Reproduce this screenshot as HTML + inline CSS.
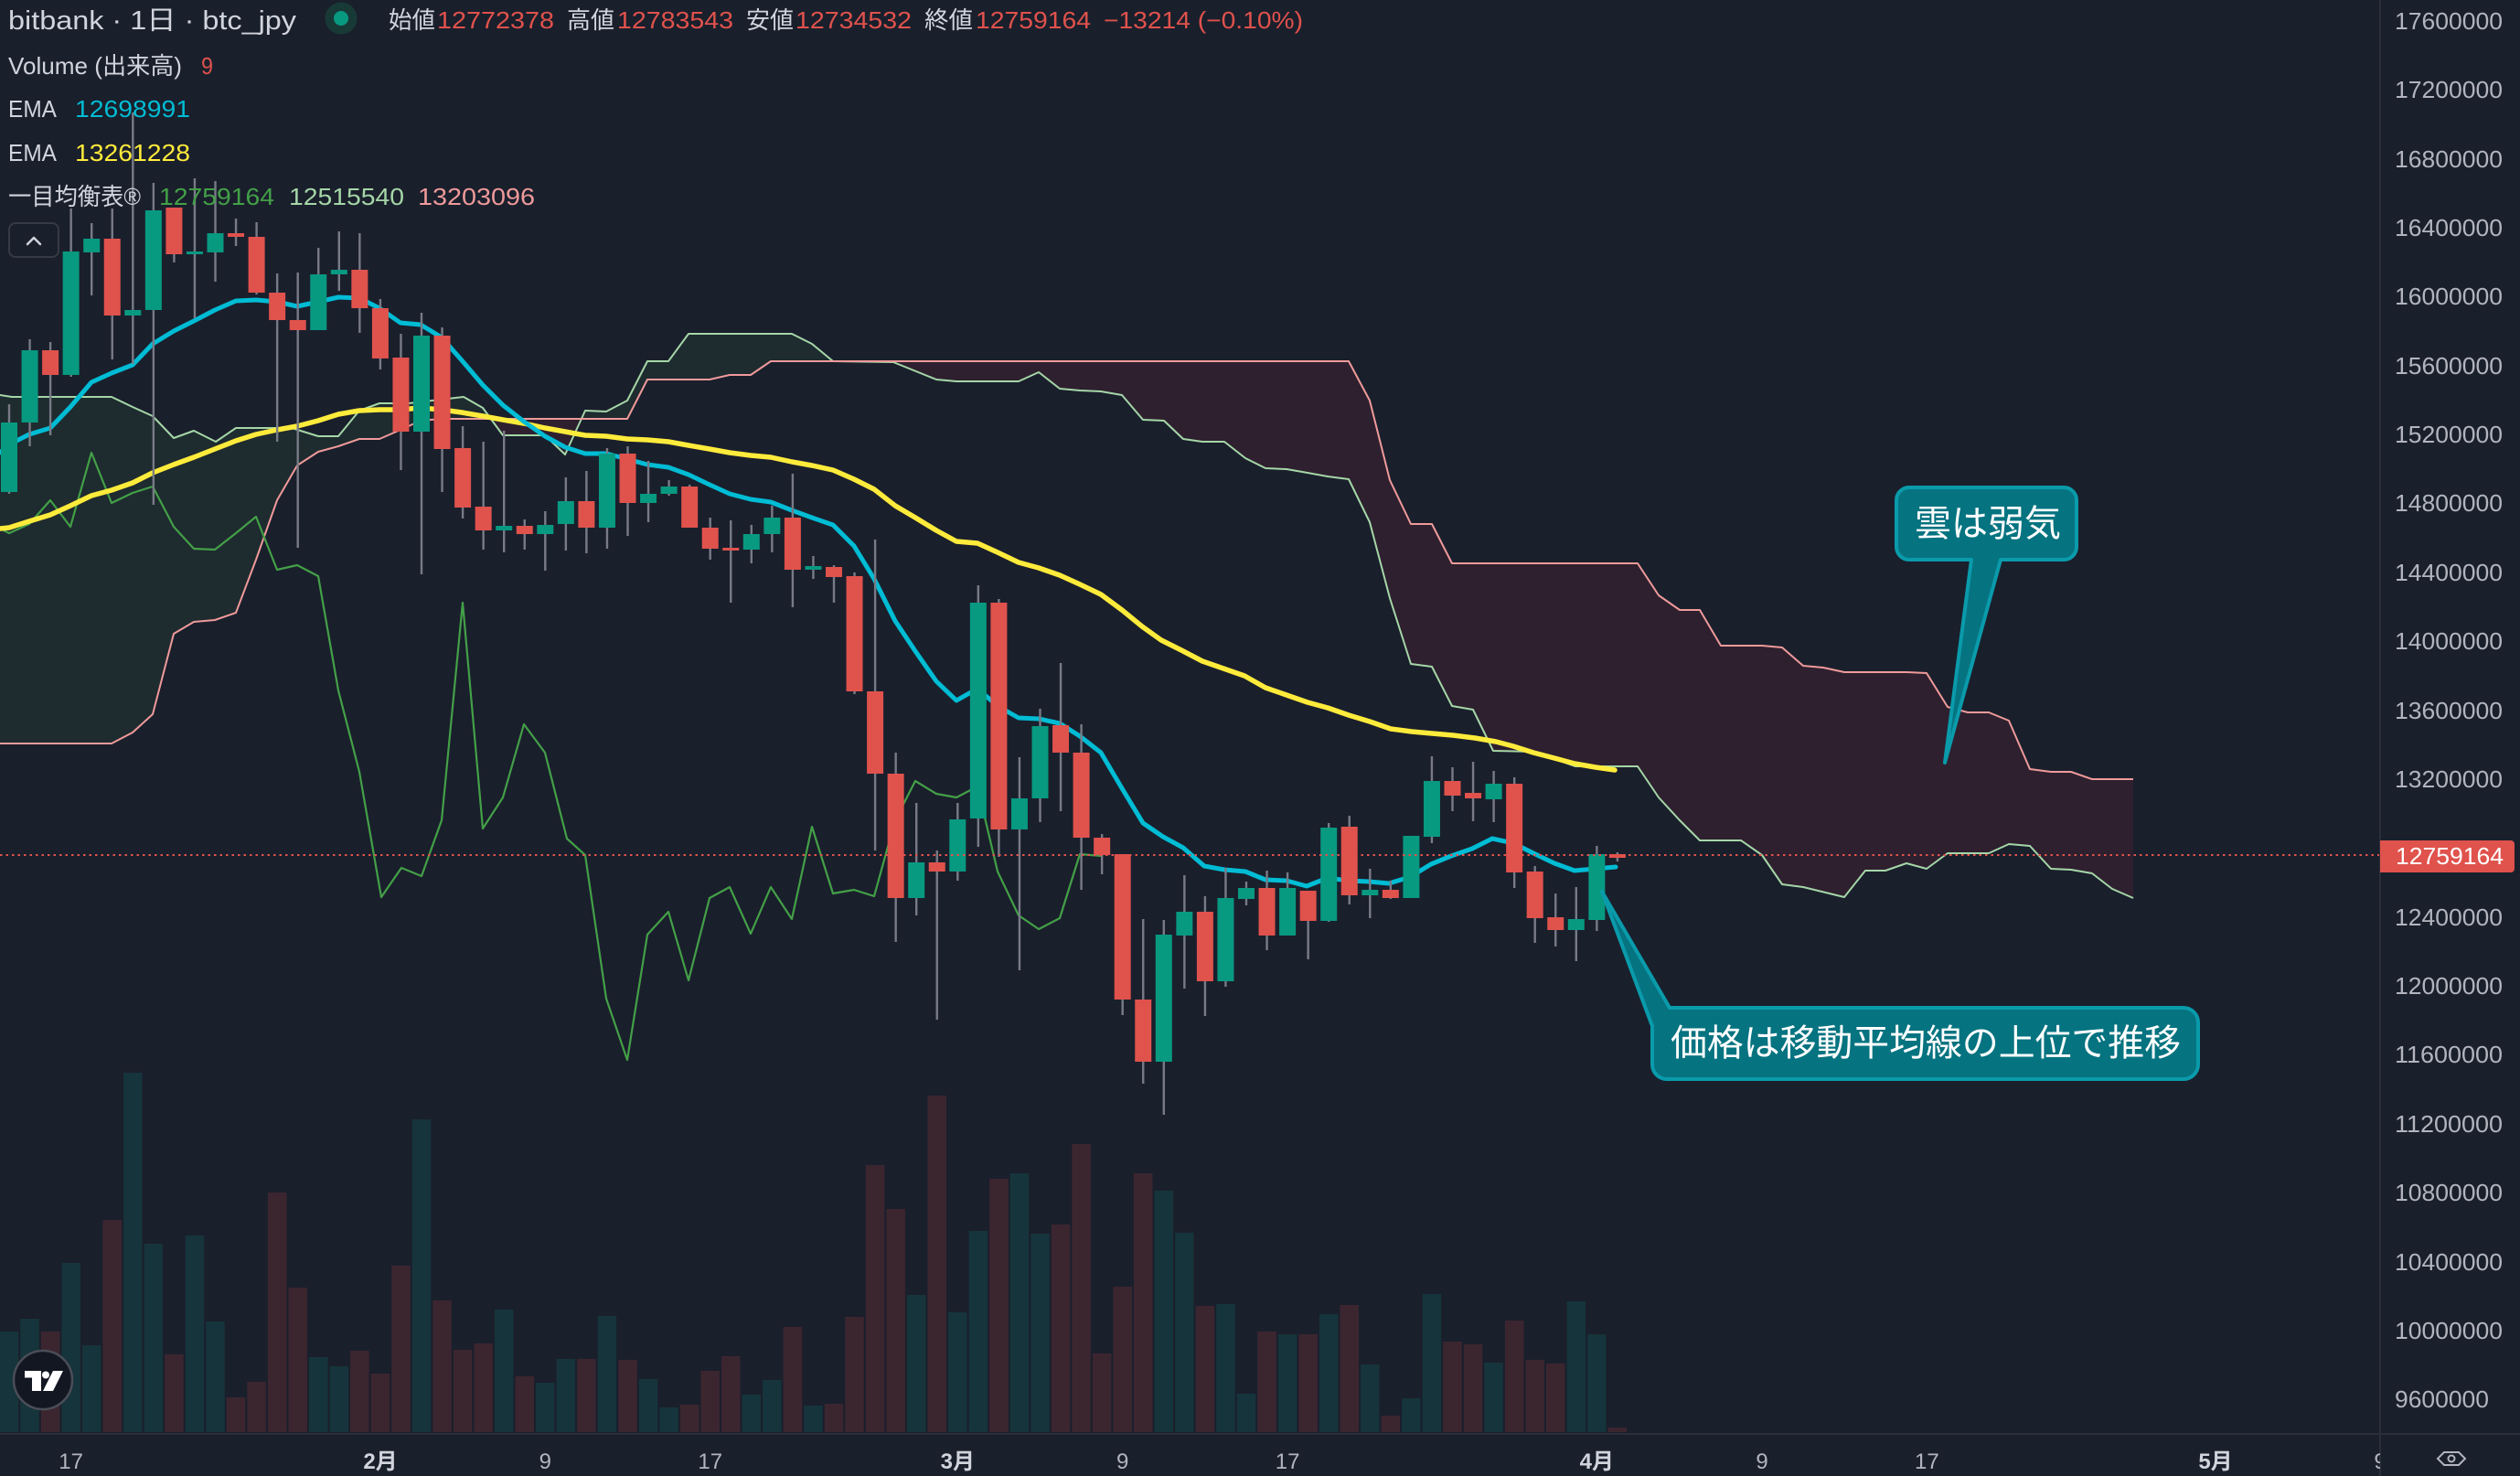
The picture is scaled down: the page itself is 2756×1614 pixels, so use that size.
<!DOCTYPE html>
<html>
<head>
<meta charset="utf-8">
<style>
  html,body{margin:0;padding:0;background:#1a1f2c;}
  svg{display:block;}
  .lat{font-family:"Liberation Sans","Noto Sans CJK JP",sans-serif;}
</style>
</head>
<body>
<svg width="2756" height="1614" viewBox="0 0 2756 1614" xmlns="http://www.w3.org/2000/svg">
  <defs>
    <clipPath id="chart"><rect x="0" y="0" width="2603" height="1567"/></clipPath>
    <clipPath id="belowA"><polygon points="0,432 13,434 122,434 145,445 167,455 190,479 212,471 236,483 258,468 319,468 348,477 370,477 393,449 415,441 447,441 507,434 528,446 550,476 596,476 618,497 640,449 663,450 686,438 708,395 731,395 753,365 866,365 888,376 911,395 977,396 1024,415 1046,417 1114,417 1136,407 1159,425 1181,427 1204,428 1227,432 1250,459 1273,460 1294,480 1315,483 1339,483 1362,501 1384,512 1407,513 1430,517 1452,521 1475,524 1498,571 1520,654 1543,726 1566,729 1588,772 1611,776 1633,821 1678,822 1723,838 1791,838 1814,872 1837,897 1859,919 1904,919 1927,935 1949,967 1972,970 2017,981 2040,952 2062,952 2085,944 2107,950 2130,933 2175,933 2197,923 2220,925 2243,950 2265,951 2288,955 2310,972 2333,982 2333,1614 0,1614"/></clipPath>
    <clipPath id="belowB"><polygon points="0,813 122,813 145,801 167,781 190,693 212,680 235,678 258,670 280,612 303,547 325,509 348,494 370,488 393,480 415,480 438,470 460,460 483,458 686,458 708,415 776,415 798,410 821,410 843,395 1475,395 1498,438 1520,525 1543,573 1566,573 1588,616 1791,616 1814,651 1837,667 1859,667 1882,706 1927,706 1949,708 1972,728 1994,730 2017,735 2085,735 2107,736 2130,773 2152,779 2175,779 2197,788 2220,841 2243,844 2265,844 2288,852 2333,852 2333,1614 0,1614"/></clipPath>
    <clipPath id="timeclip"><rect x="0" y="1568" width="2603" height="46"/></clipPath>
  </defs>

  <rect x="0" y="0" width="2756" height="1614" fill="#1a1f2c"/>

  <g clip-path="url(#chart)">
    <!-- Cloud fills -->
    <polygon id="between" clip-path="url(#belowA)" fill="#1e2b2f" points="0,432 13,434 122,434 145,445 167,455 190,479 212,471 236,483 258,468 319,468 348,477 370,477 393,449 415,441 447,441 507,434 528,446 550,476 596,476 618,497 640,449 663,450 686,438 708,395 731,395 753,365 866,365 888,376 911,395 977,396 1024,415 1046,417 1114,417 1136,407 1159,425 1181,427 1204,428 1227,432 1250,459 1273,460 1294,480 1315,483 1339,483 1362,501 1384,512 1407,513 1430,517 1452,521 1475,524 1498,571 1520,654 1543,726 1566,729 1588,772 1611,776 1633,821 1678,822 1723,838 1791,838 1814,872 1837,897 1859,919 1904,919 1927,935 1949,967 1972,970 2017,981 2040,952 2062,952 2085,944 2107,950 2130,933 2175,933 2197,923 2220,925 2243,950 2265,951 2288,955 2310,972 2333,982 2333,852 2288,852 2265,844 2243,844 2220,841 2197,788 2175,779 2152,779 2130,773 2107,736 2085,735 2017,735 1994,730 1972,728 1949,708 1927,706 1882,706 1859,667 1837,667 1814,651 1791,616 1588,616 1566,573 1543,573 1520,525 1498,438 1475,395 843,395 821,410 798,410 776,415 708,415 686,458 483,458 460,460 438,470 415,480 393,480 370,488 348,494 325,509 303,547 280,612 258,670 235,678 212,680 190,693 167,781 145,801 122,813 0,813"/>
    <polygon clip-path="url(#belowB)" fill="#2e202f" points="0,432 13,434 122,434 145,445 167,455 190,479 212,471 236,483 258,468 319,468 348,477 370,477 393,449 415,441 447,441 507,434 528,446 550,476 596,476 618,497 640,449 663,450 686,438 708,395 731,395 753,365 866,365 888,376 911,395 977,396 1024,415 1046,417 1114,417 1136,407 1159,425 1181,427 1204,428 1227,432 1250,459 1273,460 1294,480 1315,483 1339,483 1362,501 1384,512 1407,513 1430,517 1452,521 1475,524 1498,571 1520,654 1543,726 1566,729 1588,772 1611,776 1633,821 1678,822 1723,838 1791,838 1814,872 1837,897 1859,919 1904,919 1927,935 1949,967 1972,970 2017,981 2040,952 2062,952 2085,944 2107,950 2130,933 2175,933 2197,923 2220,925 2243,950 2265,951 2288,955 2310,972 2333,982 2333,852 2288,852 2265,844 2243,844 2220,841 2197,788 2175,779 2152,779 2130,773 2107,736 2085,735 2017,735 1994,730 1972,728 1949,708 1927,706 1882,706 1859,667 1837,667 1814,651 1791,616 1588,616 1566,573 1543,573 1520,525 1498,438 1475,395 843,395 821,410 798,410 776,415 708,415 686,458 483,458 460,460 438,470 415,480 393,480 370,488 348,494 325,509 303,547 280,612 258,670 235,678 212,680 190,693 167,781 145,801 122,813 0,813"/>

    <!-- Volume -->
    <path fill="#16343b" d="M-0.25 1456h20.5V1566h-20.5z M22.3 1442h20.5V1566h-20.5z M67.4 1381h20.5V1566h-20.5z M89.95 1471h20.5V1566h-20.5z M135.05 1173h20.5V1566h-20.5z M157.6 1360h20.5V1566h-20.5z M202.7 1351h20.5V1566h-20.5z M225.25 1445h20.5V1566h-20.5z M338 1484h20.5V1566h-20.5z M360.55 1494h20.5V1566h-20.5z M450.75 1224h20.5V1566h-20.5z M540.95 1432h20.5V1566h-20.5z M586.05 1512h20.5V1566h-20.5z M608.6 1486h20.5V1566h-20.5z M653.7 1439h20.5V1566h-20.5z M698.8 1508h20.5V1566h-20.5z M721.35 1539h20.5V1566h-20.5z M811.55 1525h20.5V1566h-20.5z M834.1 1509h20.5V1566h-20.5z M879.2 1537h20.5V1566h-20.5z M991.95 1416h20.5V1566h-20.5z M1037.05 1435h20.5V1566h-20.5z M1059.6 1346h20.5V1566h-20.5z M1104.7 1283h20.5V1566h-20.5z M1127.25 1349h20.5V1566h-20.5z M1262.55 1302h20.5V1566h-20.5z M1285.1 1348h20.5V1566h-20.5z M1330.2 1426h20.5V1566h-20.5z M1352.75 1524h20.5V1566h-20.5z M1397.85 1459h20.5V1566h-20.5z M1442.95 1437h20.5V1566h-20.5z M1488.05 1492h20.5V1566h-20.5z M1533.15 1529h20.5V1566h-20.5z M1555.7 1415h20.5V1566h-20.5z M1623.35 1490h20.5V1566h-20.5z M1713.55 1423h20.5V1566h-20.5z M1736.1 1459h20.5V1566h-20.5z"/>
    <path fill="#3b2630" d="M44.85 1456h20.5V1566h-20.5z M112.5 1334h20.5V1566h-20.5z M180.15 1481h20.5V1566h-20.5z M247.8 1528h20.5V1566h-20.5z M270.35 1511h20.5V1566h-20.5z M292.9 1304h20.5V1566h-20.5z M315.45 1408h20.5V1566h-20.5z M383.1 1477h20.5V1566h-20.5z M405.65 1502h20.5V1566h-20.5z M428.2 1384h20.5V1566h-20.5z M473.3 1422h20.5V1566h-20.5z M495.85 1476h20.5V1566h-20.5z M518.4 1469h20.5V1566h-20.5z M563.5 1505h20.5V1566h-20.5z M631.15 1486h20.5V1566h-20.5z M676.25 1487h20.5V1566h-20.5z M743.9 1536h20.5V1566h-20.5z M766.45 1499h20.5V1566h-20.5z M789 1483h20.5V1566h-20.5z M856.65 1451h20.5V1566h-20.5z M901.75 1535h20.5V1566h-20.5z M924.3 1440h20.5V1566h-20.5z M946.85 1274h20.5V1566h-20.5z M969.4 1322h20.5V1566h-20.5z M1014.5 1198h20.5V1566h-20.5z M1082.15 1289h20.5V1566h-20.5z M1149.8 1339h20.5V1566h-20.5z M1172.35 1251h20.5V1566h-20.5z M1194.9 1480h20.5V1566h-20.5z M1217.45 1407h20.5V1566h-20.5z M1240 1283h20.5V1566h-20.5z M1307.65 1428h20.5V1566h-20.5z M1375.3 1456h20.5V1566h-20.5z M1420.4 1459h20.5V1566h-20.5z M1465.5 1427h20.5V1566h-20.5z M1510.6 1548h20.5V1566h-20.5z M1578.25 1467h20.5V1566h-20.5z M1600.8 1470h20.5V1566h-20.5z M1645.9 1444h20.5V1566h-20.5z M1668.45 1487h20.5V1566h-20.5z M1691 1491h20.5V1566h-20.5z M1758.65 1561h20.5V1566h-20.5z"/>

    <!-- Span lines -->
    <polyline fill="none" stroke="#a5d6a7" stroke-width="2" stroke-linejoin="round" points="0,432 13,434 122,434 145,445 167,455 190,479 212,471 236,483 258,468 319,468 348,477 370,477 393,449 415,441 447,441 507,434 528,446 550,476 596,476 618,497 640,449 663,450 686,438 708,395 731,395 753,365 866,365 888,376 911,395 977,396 1024,415 1046,417 1114,417 1136,407 1159,425 1181,427 1204,428 1227,432 1250,459 1273,460 1294,480 1315,483 1339,483 1362,501 1384,512 1407,513 1430,517 1452,521 1475,524 1498,571 1520,654 1543,726 1566,729 1588,772 1611,776 1633,821 1678,822 1723,838 1791,838 1814,872 1837,897 1859,919 1904,919 1927,935 1949,967 1972,970 2017,981 2040,952 2062,952 2085,944 2107,950 2130,933 2175,933 2197,923 2220,925 2243,950 2265,951 2288,955 2310,972 2333,982"/>
    <polyline fill="none" stroke="#ef9a9a" stroke-width="2" stroke-linejoin="round" points="0,813 122,813 145,801 167,781 190,693 212,680 235,678 258,670 280,612 303,547 325,509 348,494 370,488 393,480 415,480 438,470 460,460 483,458 686,458 708,415 776,415 798,410 821,410 843,395 1475,395 1498,438 1520,525 1543,573 1566,573 1588,616 1791,616 1814,651 1837,667 1859,667 1882,706 1927,706 1949,708 1972,728 1994,730 2017,735 2085,735 2107,736 2130,773 2152,779 2175,779 2197,788 2220,841 2243,844 2265,844 2288,852 2333,852"/>

    <!-- Lagging span -->
    <polyline fill="none" stroke="#43a047" stroke-width="2.2" stroke-linejoin="round" points="0,578 10,583 32,573 55,547 77,576 100,495 122,550 145,539 167,532 190,576 212,600 235,601 258,583 280,565 303,623 325,618 348,630 370,755 393,844 417,981 439,949 461,958 483,897 506,659 528,906 550,872 573,792 596,823 620,917 640,935 663,1092 686,1159 708,1022 731,997 753,1072 776,982 798,970 821,1021 843,970 866,1005 888,904 911,977 934,973 956,980 979,897 1001,854 1024,868 1046,872 1069,860 1091,953 1114,1001 1136,1016 1159,1004 1181,934 1205,936"/>

    <!-- EMAs -->
    <polyline fill="none" stroke="#ffeb3b" stroke-width="5.5" stroke-linejoin="round" stroke-linecap="round" points="0,578 10,577 32,570 55,563 77,553 100,542 122,536 145,528 167,517 190,508 212,500 235,491 258,482 280,475 303,470 325,466 348,460 370,453 393,449 415,448 438,448 460,446 483,448 505,451 528,455 550,459 573,463 596,468 618,472 640,476 663,477 686,480 708,481 731,483 753,487 776,491 798,495 821,498 843,500 866,505 888,509 911,514 934,524 956,535 979,553 1001,566 1024,580 1046,592 1069,594 1091,604 1114,615 1136,621 1159,629 1181,639 1204,650 1227,667 1249,685 1270,700 1292,711 1315,723 1338,731 1361,739 1384,752 1407,760 1430,768 1452,774 1475,782 1498,789 1521,797 1544,800 1566,802 1589,804 1613,807 1636,811 1655,816 1677,823 1700,829 1722,835 1745,839 1766,842"/>
    <polyline fill="none" stroke="#00bcd4" stroke-width="5" stroke-linejoin="round" stroke-linecap="round" points="0,495 10,486 32,475 55,468 77,445 100,418 122,408 145,399 167,376 190,362 212,351 235,339 258,329 280,328 303,330 325,335 348,330 370,325 393,326 415,337 438,353 460,355 483,369 505,394 528,421 550,443 573,461 596,477 618,489 640,496 663,496 686,502 708,508 731,511 753,519 776,530 798,540 821,546 843,549 866,558 888,566 911,574 934,597 956,633 979,679 1001,712 1024,745 1046,766 1069,753 1091,772 1114,785 1136,786 1159,791 1181,805 1204,823 1227,862 1250,900 1272,915 1294,927 1317,947 1339,951 1362,953 1384,962 1407,963 1429,969 1452,960 1474,963 1497,964 1519,966 1542,959 1565,945 1587,936 1610,928 1632,917 1655,922 1677,933 1700,944 1722,952 1745,950 1767,948"/>

    <!-- Wicks -->
    <path fill="none" stroke="#787b86" stroke-width="2.4" d="M10 442V540 M32.55 371V488 M55.1 374V476 M77.65 228V412 M100.2 244V323 M122.75 228V393 M145.3 123V398 M167.85 200V552 M190.4 227V287 M212.95 195V348 M235.5 198V308 M258.05 239V269 M280.6 243V322 M303.15 299V483 M325.7 298V599 M348.25 271V361 M370.8 253V318 M393.35 255V364 M415.9 327V404 M438.45 365V514 M461 342V628 M483.55 358V538 M506.1 466V567 M528.65 483V601 M551.2 471V604 M573.75 568V601 M596.3 559V624 M618.85 522V602 M641.4 515V605 M663.95 490V600 M686.5 488V586 M709.05 504V571 M731.6 525V542 M754.15 530V577 M776.7 566V612 M799.25 569V659 M821.8 574V616 M844.35 553V604 M866.9 518V664 M889.45 608V633 M912 618V659 M934.55 626V759 M957.1 590V930 M979.65 823V1030 M1002.2 878V1001 M1024.75 930V1115 M1047.3 878V963 M1069.85 640V926 M1092.4 655V937 M1114.95 828V1061 M1137.5 775V899 M1160.05 725V887 M1182.6 792V973 M1205.15 912V956 M1227.7 934V1110 M1250.25 1005V1185 M1272.8 1006V1219 M1295.35 957V1081 M1317.9 980V1111 M1340.45 949V1079 M1363 964V990 M1385.55 952V1039 M1408.1 954V1023 M1430.65 974V1049 M1453.2 900V1008 M1475.75 892V989 M1498.3 950V1004 M1520.85 963V983 M1543.4 914V982 M1565.95 827V922 M1588.5 839V887 M1611.05 833V898 M1633.6 843V899 M1656.15 850V971 M1678.7 947V1031 M1701.25 977V1035 M1723.8 970V1051 M1746.35 925V1018 M1768.9 932V942"/>

    <!-- Up bodies -->
    <path fill="#089981" d="M1 462h18V538h-18z M23.55 383h18V462h-18z M68.65 275h18V410h-18z M91.2 261h18V276h-18z M136.3 339h18V345h-18z M158.85 230h18V339h-18z M203.95 275h18V278h-18z M226.5 255h18V276h-18z M339.25 300h18V361h-18z M361.8 295h18V300h-18z M452 367h18V472h-18z M542.2 575h18V580h-18z M587.3 574h18V584h-18z M609.85 548h18V573h-18z M654.95 496h18V577h-18z M700.05 540h18V550h-18z M722.6 532h18V540h-18z M812.8 584h18V601h-18z M835.35 566h18V584h-18z M880.45 619h18V623h-18z M993.2 943h18V982h-18z M1038.3 896h18V953h-18z M1060.85 659h18V895h-18z M1105.95 873h18V907h-18z M1128.5 794h18V873h-18z M1263.8 1022h18V1161h-18z M1286.35 997h18V1023h-18z M1331.45 982h18V1073h-18z M1354 971h18V983h-18z M1399.1 971h18V1023h-18z M1444.2 905h18V1007h-18z M1489.3 973h18V979h-18z M1534.4 914h18V982h-18z M1556.95 854h18V915h-18z M1624.6 857h18V874h-18z M1714.8 1005h18V1017h-18z M1737.35 934h18V1006h-18z"/>
    <!-- Down bodies -->
    <path fill="#e0524c" d="M46.1 383h18V410h-18z M113.75 261h18V345h-18z M181.4 227h18V278h-18z M249.05 255h18V259h-18z M271.6 259h18V320h-18z M294.15 320h18V350h-18z M316.7 350h18V361h-18z M384.35 295h18V337h-18z M406.9 337h18V392h-18z M429.45 391h18V472h-18z M474.55 367h18V491h-18z M497.1 490h18V555h-18z M519.65 554h18V580h-18z M564.75 575h18V584h-18z M632.4 548h18V577h-18z M677.5 496h18V550h-18z M745.15 532h18V577h-18z M767.7 577h18V600h-18z M790.25 599h18V602h-18z M857.9 566h18V623h-18z M903 620h18V631h-18z M925.55 630h18V756h-18z M948.1 756h18V846h-18z M970.65 846h18V982h-18z M1015.75 943h18V953h-18z M1083.4 659h18V907h-18z M1151.05 793h18V823h-18z M1173.6 823h18V916h-18z M1196.15 916h18V935h-18z M1218.7 934h18V1093h-18z M1241.25 1093h18V1161h-18z M1308.9 997h18V1073h-18z M1376.55 971h18V1023h-18z M1421.65 974h18V1007h-18z M1466.75 904h18V979h-18z M1511.85 973h18V982h-18z M1579.5 854h18V870h-18z M1602.05 867h18V873h-18z M1647.15 857h18V954h-18z M1669.7 953h18V1004h-18z M1692.25 1003h18V1017h-18z M1759.9 934h18V938h-18z"/>

    <!-- Current price dotted line -->
    <line x1="0" y1="935" x2="2603" y2="935" stroke="#e0524c" stroke-width="2" stroke-dasharray="2.5 4"/>
  </g>

  <!-- Header -->
  <g class="lat">
    <text x="9" y="32" font-size="29" fill="#d1d4dc" textLength="315" lengthAdjust="spacingAndGlyphs">bitbank · 1日 · btc_jpy</text>
    <circle cx="373" cy="20" r="17.5" fill="#183a37"/>
    <circle cx="373" cy="20" r="8" fill="#089981"/>
    <g font-size="26">
      <text x="425" y="31" fill="#d1d4dc" textLength="51" lengthAdjust="spacingAndGlyphs">始値</text>
      <text x="478" y="31" fill="#e0524c" textLength="128" lengthAdjust="spacingAndGlyphs">12772378</text>
      <text x="620" y="31" fill="#d1d4dc" textLength="52" lengthAdjust="spacingAndGlyphs">高値</text>
      <text x="675" y="31" fill="#e0524c" textLength="127" lengthAdjust="spacingAndGlyphs">12783543</text>
      <text x="816" y="31" fill="#d1d4dc" textLength="52" lengthAdjust="spacingAndGlyphs">安値</text>
      <text x="870" y="31" fill="#e0524c" textLength="127" lengthAdjust="spacingAndGlyphs">12734532</text>
      <text x="1011" y="31" fill="#d1d4dc" textLength="53" lengthAdjust="spacingAndGlyphs">終値</text>
      <text x="1067" y="31" fill="#e0524c" textLength="126" lengthAdjust="spacingAndGlyphs">12759164</text>
      <text x="1207" y="31" fill="#e0524c" textLength="218" lengthAdjust="spacingAndGlyphs">−13214 (−0.10%)</text>

      <text x="9" y="81" fill="#d1d4dc" textLength="190" lengthAdjust="spacingAndGlyphs">Volume (出来高)</text>
      <text x="220" y="81" fill="#e0524c" textLength="13" lengthAdjust="spacingAndGlyphs">9</text>

      <text x="9" y="128" fill="#d1d4dc" textLength="53" lengthAdjust="spacingAndGlyphs">EMA</text>
      <text x="82" y="128" fill="#00bcd4" textLength="126" lengthAdjust="spacingAndGlyphs">12698991</text>

      <text x="9" y="176" fill="#d1d4dc" textLength="53" lengthAdjust="spacingAndGlyphs">EMA</text>
      <text x="82" y="176" fill="#ffeb3b" textLength="126" lengthAdjust="spacingAndGlyphs">13261228</text>

      <text x="9" y="224" fill="#d1d4dc" textLength="145" lengthAdjust="spacingAndGlyphs">一目均衡表®</text>
      <text x="174" y="224" fill="#43a047" textLength="126" lengthAdjust="spacingAndGlyphs">12759164</text>
      <text x="316" y="224" fill="#a5d6a7" textLength="126" lengthAdjust="spacingAndGlyphs">12515540</text>
      <text x="457" y="224" fill="#ef9a9a" textLength="128" lengthAdjust="spacingAndGlyphs">13203096</text>
    </g>
  </g>

  <!-- collapse button -->
  <rect x="10" y="244" width="54" height="37" rx="7" fill="#1a1f2c" stroke="#363a45" stroke-width="2"/>
  <polyline points="30,267 37,260 44,267" fill="none" stroke="#d1d4dc" stroke-width="2.5" stroke-linecap="round" stroke-linejoin="round"/>

  <!-- Price axis -->
  <line x1="2603" y1="0" x2="2603" y2="1614" stroke="#2a2e39" stroke-width="2"/>
  <g class="lat" font-size="26" fill="#b2b5be">
    <text x="2619" y="32" textLength="118" lengthAdjust="spacingAndGlyphs">17600000</text>
    <text x="2619" y="107" textLength="118" lengthAdjust="spacingAndGlyphs">17200000</text>
    <text x="2619" y="183" textLength="118" lengthAdjust="spacingAndGlyphs">16800000</text>
    <text x="2619" y="258" textLength="118" lengthAdjust="spacingAndGlyphs">16400000</text>
    <text x="2619" y="333" textLength="118" lengthAdjust="spacingAndGlyphs">16000000</text>
    <text x="2619" y="409" textLength="118" lengthAdjust="spacingAndGlyphs">15600000</text>
    <text x="2619" y="484" textLength="118" lengthAdjust="spacingAndGlyphs">15200000</text>
    <text x="2619" y="559" textLength="118" lengthAdjust="spacingAndGlyphs">14800000</text>
    <text x="2619" y="635" textLength="118" lengthAdjust="spacingAndGlyphs">14400000</text>
    <text x="2619" y="710" textLength="118" lengthAdjust="spacingAndGlyphs">14000000</text>
    <text x="2619" y="786" textLength="118" lengthAdjust="spacingAndGlyphs">13600000</text>
    <text x="2619" y="861" textLength="118" lengthAdjust="spacingAndGlyphs">13200000</text>
    <text x="2619" y="1012" textLength="118" lengthAdjust="spacingAndGlyphs">12400000</text>
    <text x="2619" y="1087" textLength="118" lengthAdjust="spacingAndGlyphs">12000000</text>
    <text x="2619" y="1162" textLength="118" lengthAdjust="spacingAndGlyphs">11600000</text>
    <text x="2619" y="1238" textLength="118" lengthAdjust="spacingAndGlyphs">11200000</text>
    <text x="2619" y="1313" textLength="118" lengthAdjust="spacingAndGlyphs">10800000</text>
    <text x="2619" y="1389" textLength="118" lengthAdjust="spacingAndGlyphs">10400000</text>
    <text x="2619" y="1464" textLength="118" lengthAdjust="spacingAndGlyphs">10000000</text>
    <text x="2619" y="1539" textLength="103" lengthAdjust="spacingAndGlyphs">9600000</text>
  </g>
  <path d="M2603 919H2746a4 4 0 0 1 4 4V950a4 4 0 0 1-4 4H2603z" fill="#e0524c"/>
  <text class="lat" x="2620" y="945" font-size="26" fill="#ffffff" textLength="118" lengthAdjust="spacingAndGlyphs">12759164</text>

  <!-- Time axis -->
  <line x1="0" y1="1568" x2="2756" y2="1568" stroke="#2a2e39" stroke-width="2"/>
  <g class="lat" font-size="24" text-anchor="middle" clip-path="url(#timeclip)">
    <text x="77.6" y="1606" fill="#b2b5be">17</text>
    <text x="416" y="1606" fill="#d1d4dc" font-weight="bold">2月</text>
    <text x="596.3" y="1606" fill="#b2b5be">9</text>
    <text x="776.7" y="1606" fill="#b2b5be">17</text>
    <text x="1047.3" y="1606" fill="#d1d4dc" font-weight="bold">3月</text>
    <text x="1227.7" y="1606" fill="#b2b5be">9</text>
    <text x="1408.1" y="1606" fill="#b2b5be">17</text>
    <text x="1746.3" y="1606" fill="#d1d4dc" font-weight="bold">4月</text>
    <text x="1927" y="1606" fill="#b2b5be">9</text>
    <text x="2107.4" y="1606" fill="#b2b5be">17</text>
    <text x="2423" y="1606" fill="#d1d4dc" font-weight="bold">5月</text>
    <text x="2603" y="1606" fill="#b2b5be">9</text>
  </g>
  <!-- settings icon -->
  <polygon points="2666,1595 2673,1588 2689,1588 2696,1595 2689,1602 2673,1602" fill="none" stroke="#b2b5be" stroke-width="2"/>
  <circle cx="2681" cy="1595" r="3.5" fill="none" stroke="#b2b5be" stroke-width="2"/>

  <!-- TV logo -->
  <circle cx="47" cy="1509" r="32" fill="#131722" stroke="#4a4d57" stroke-width="2.5"/>
  <rect x="27" y="1499" width="18" height="7.5" fill="#ffffff"/>
  <rect x="35" y="1499" width="10" height="22" fill="#ffffff"/>
  <circle cx="50" cy="1503.5" r="4" fill="#ffffff"/>
  <polygon points="58,1499 69,1499 58,1521 47,1521" fill="#ffffff"/>

  <!-- Annotation 1 -->
  <path d="M2088,533 H2257 A14,14 0 0 1 2271,547 V598 A14,14 0 0 1 2257,612 H2188 L2127,834 L2156,612 H2088 A14,14 0 0 1 2074,598 V547 A14,14 0 0 1 2088,533 Z" fill="#067380" stroke="#0a9bab" stroke-width="4" stroke-linejoin="round"/>
  <text x="2094" y="586" font-family="'Noto Sans CJK JP','Liberation Sans',sans-serif" font-size="40" fill="#ffffff" textLength="160" lengthAdjust="spacingAndGlyphs">雲は弱気</text>

  <!-- Annotation 2 -->
  <path d="M1752,975 L1826,1102 H2388 A16,16 0 0 1 2404,1118 V1164 A16,16 0 0 1 2388,1180 H1823 A16,16 0 0 1 1807,1164 V1122 Z" fill="#067380" stroke="#0a9bab" stroke-width="4" stroke-linejoin="round"/>
  <text x="1827" y="1154" font-family="'Noto Sans CJK JP','Liberation Sans',sans-serif" font-size="40" fill="#ffffff" textLength="558" lengthAdjust="spacingAndGlyphs">価格は移動平均線の上位で推移</text>
</svg>
</body>
</html>
